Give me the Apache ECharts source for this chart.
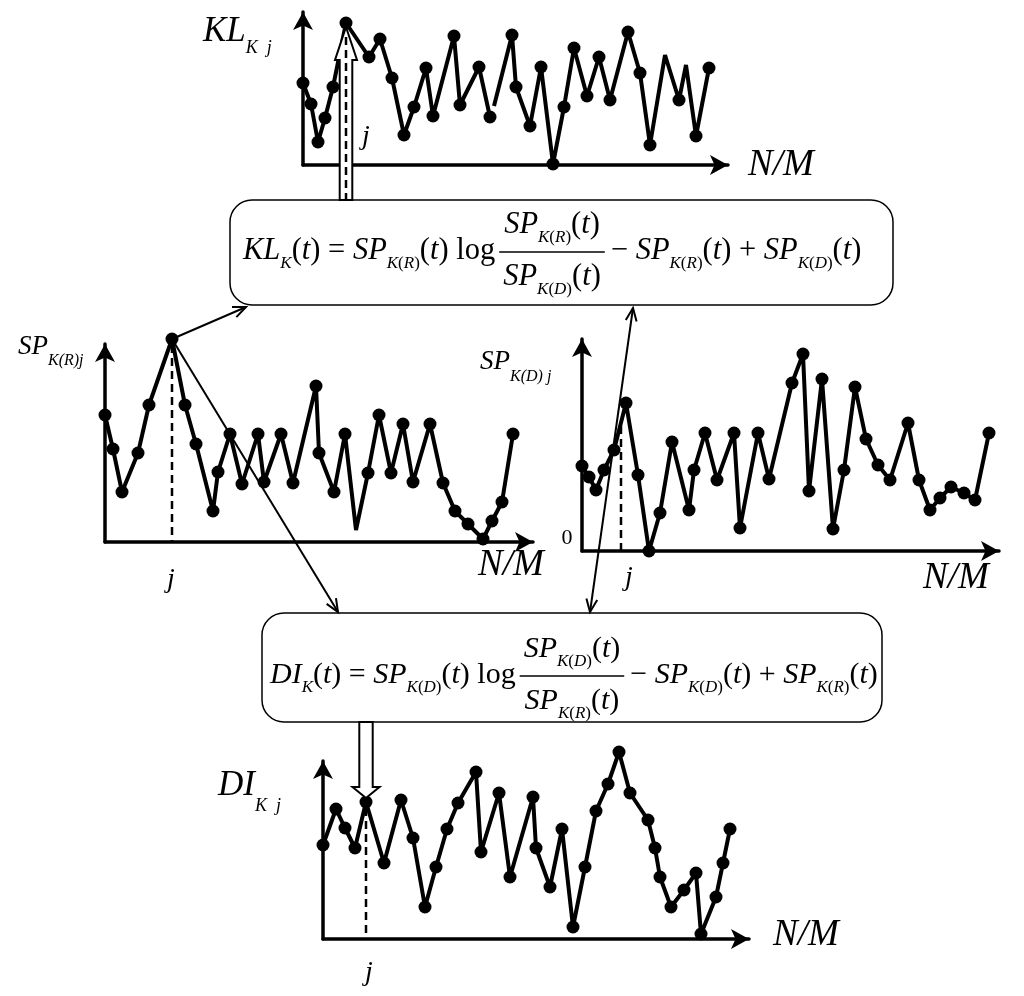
<!DOCTYPE html>
<html><head><meta charset="utf-8">
<script src="https://cdn.jsdelivr.net/npm/echarts@6/dist/echarts.min.js"></script>
<style>html,body{margin:0;padding:0;background:#fff}#c{width:1024px;height:996px}</style>
</head><body><div id="c"></div>
<script>
// ---------- DATA (x = position along N/M, y = value) ----------
const klX = [0,8,15,22,30,43,66,77,89,101,111,123,130,151,157,176,187,189,191,209,213,227,238,250,261,271,284,296,307,325,337,347,362,376,383,393,406];
const klY = [82,61,23,47,78,142,108,126,87,30,58,97,49,129,60,98,48,null,59,130,78,39,98,1,58,117,69,108,65,133,92,20,110,65,100,29,97];
const klNoDot = [18,32,34];
const klJ = 5;

const spRX = [0,8,17,33,44,67,80,91,108,113,125,137,153,159,176,188,211,214,229,240,251,263,274,286,298,308,325,338,350,363,378,387,397,408];
const spRY = [127,93,50,89,137,203,137,98,31,70,108,58,108,60,108,59,156,89,50,108,12,69,127,69,118,60,118,59,31,18,3,21,40,108];
const spRNoDot = [20];
const spRJ = 5;

const spDX = [0,7,14,22,32,44,56,67,78,90,107,112,123,135,152,158,176,187,210,221,227,240,251,262,273,284,296,308,326,337,348,358,369,382,393,407];
const spDY = [85,74,61,81,101,148,76,0,38,109,41,81,118,71,118,23,118,72,168,197,60,172,22,81,164,112,86,71,128,71,41,53,64,58,51,118];
const spDJ = [39,127];

const diX = [0,13,22,32,43,61,78,90,102,113,124,135,153,158,176,187,210,213,227,239,250,262,273,285,296,307,325,332,337,348,361,373,378,393,400,407];
const diY = [94,130,111,91,137,76,139,101,32,72,110,136,167,87,146,62,142,91,52,110,12,72,128,155,187,146,119,91,62,32,49,66,5,42,76,110];
const diJ = 4;

// ---------- LAYOUT ----------
const frames = [
  {ox:303, oy:165, tx:737, ty:3},
  {ox:105, oy:542, tx:542, ty:335},
  {ox:582, oy:551, tx:1008, ty:330},
  {ox:323, oy:939, tx:758, ty:752}
];
const FF = 'Liberation Serif';
const chart = echarts.init(document.getElementById('c'), null, {renderer:'canvas'});
const sets = [
  {X:klX, Y:klY, nd:klNoDot},
  {X:spRX, Y:spRY, nd:spRNoDot},
  {X:spDX, Y:spDY, nd:[]},
  {X:diX, Y:diY, nd:[]}
];
const grids=[], xAxes=[], yAxes=[], series=[];
frames.forEach((f,i)=>{
  const w=f.tx-9-f.ox, h=f.oy-f.ty-9;
  grids.push({left:f.ox, top:f.ty+9, width:w, height:h});
  const axisLine={show:true,onZero:true,symbol:['none','arrow'],symbolSize:[15,18],lineStyle:{color:'#000',width:3.5}};
  const common={gridIndex:i,type:'value',min:0,axisLine,axisTick:{show:false},axisLabel:{show:false},splitLine:{show:false}};
  xAxes.push(Object.assign({max:w},common));
  yAxes.push(Object.assign({max:h},common));
  const s=sets[i];
  const data=s.X.map((x,k)=>{
    if(s.Y[k]==null) return [x,'-'];
    if(s.nd.includes(k)) return {value:[x,s.Y[k]],symbol:'none'};
    return [x,s.Y[k]];
  });
  series.push({type:'line',xAxisIndex:i,yAxisIndex:i,data,symbol:'circle',symbolSize:13,showSymbol:true,
    lineStyle:{color:'#000',width:4},itemStyle:{color:'#000'},clip:false,silent:true,z:3,animation:false});
});
chart.setOption({animation:false,grid:grids,xAxis:xAxes,yAxis:yAxes,series});

// ---------- helpers ----------
function rs(main, sub, d){
  const H=2*d+20;
  return {
    m:{fontFamily:FF,fontStyle:'italic',fontSize:main,lineHeight:H,verticalAlign:'middle',fill:'#000'},
    n:{fontFamily:FF,fontStyle:'normal',fontSize:main,lineHeight:H,verticalAlign:'middle',fill:'#000'},
    s:{fontFamily:FF,fontStyle:'italic',fontSize:sub,lineHeight:20,verticalAlign:'bottom',fill:'#000'},
    sn:{fontFamily:FF,fontStyle:'normal',fontSize:sub,lineHeight:20,verticalAlign:'bottom',fill:'#000'}
  };
}
function txt(x,y,text,rich,align){
  return {type:'text',x,y,z:20,silent:true,style:{text,rich,align:align||'left',verticalAlign:'middle',fill:'#000'}};
}
function measure(text,rich){
  const t=new echarts.graphic.Text({style:{text,rich}});
  return t.getBoundingRect().width;
}
function line(x1,y1,x2,y2,w,dash){
  return {type:'line',z:15,silent:true,shape:{x1,y1,x2,y2},style:{stroke:'#000',lineWidth:w||2,lineDash:dash||null}};
}
function head(x1,y1,x2,y2){
  const a=Math.atan2(y2-y1,x2-x1), L=14, g=0.4;
  return {type:'polyline',z:15,silent:true,shape:{points:[[x2-L*Math.cos(a-g),y2-L*Math.sin(a-g)],[x2,y2],[x2-L*Math.cos(a+g),y2-L*Math.sin(a+g)]]},style:{stroke:'#000',lineWidth:2,fill:null}};
}
const G=[];
// boxes
G.push({type:'rect',z:5,silent:true,shape:{x:230,y:200,width:663,height:105,r:22},style:{fill:'#fff',stroke:'#000',lineWidth:1.5}});
G.push({type:'rect',z:5,silent:true,shape:{x:262,y:613,width:620,height:109,r:22},style:{fill:'#fff',stroke:'#000',lineWidth:1.5}});

// formulas
function formula(x0,yc,left,num,den,right,fs){
  const R=rs(fs,17,11);
  const wl=measure(left,R), wn=measure(num,R), wd=measure(den,R);
  const fw=Math.max(wn,wd)+8;
  const fc=x0+wl+4+fw/2;
  G.push(txt(x0,yc,left,R,'left'));
  G.push(txt(fc,yc-26,num,R,'center'));
  G.push(txt(fc,yc+26,den,R,'center'));
  G.push(line(fc-fw/2,yc+1,fc+fw/2,yc+1,1.5));
  G.push(txt(x0+wl+fw+10,yc,right,R,'left'));
}
const SPR='{m|SP}{s|K}{sn|(}{s|R}{sn|)}{n|(}{m|t}{n|)}';
const SPD='{m|SP}{s|K}{sn|(}{s|D}{sn|)}{n|(}{m|t}{n|)}';
formula(243,251,'{m|KL}{s|K}{n|(}{m|t}{n|) = }'+SPR+'{n| log}',SPR,SPD,'{n|− }'+SPR+'{n| + }'+SPD,30.5);
formula(270,675,'{m|DI}{s|K}{n|(}{m|t}{n|) = }'+SPD+'{n| log}',SPD,SPR,'{n|− }'+SPD+'{n| + }'+SPR,30);

// axis labels
G.push(txt(203,32,'{m|KL}{s|K  j}',rs(35,18,15.5)));
G.push(txt(18,347,'{m|SP}{s|K(R)j}',rs(27,16,12)));
G.push(txt(480,362,'{m|SP}{s|K(D) j}',rs(27,16,13)));
G.push(txt(218,786,'{m|DI}{s|K  j}',rs(35,18,19)));
const NM={m:{fontFamily:FF,fontStyle:'italic',fontSize:37,fill:'#000'}};
[[748,165],[478,565],[923,578],[773,935]].forEach(p=>G.push(txt(p[0],p[1],'{m|N/M}',NM)));
const JS={m:{fontFamily:FF,fontStyle:'italic',fontSize:28,fill:'#000'}};
[[366,137],[171,580],[629,578],[369,973]].forEach(p=>G.push(txt(p[0],p[1],'{m|j}',JS,'center')));
G.push(txt(567,538,'{n|0}',{n:{fontFamily:FF,fontSize:22,fill:'#000'}},'center'));

// j markers
const pKL=chart.convertToPixel({gridIndex:0},[klX[klJ],klY[klJ]]);
const pR=chart.convertToPixel({gridIndex:1},[spRX[spRJ],spRY[spRJ]]);
const pD=chart.convertToPixel({gridIndex:2},spDJ);
const pD0=chart.convertToPixel({gridIndex:2},[spDJ[0],0]);
const pDI=chart.convertToPixel({gridIndex:3},[diX[diJ],diY[diJ]]);
const pR0=chart.convertToPixel({gridIndex:1},[spRX[spRJ],0]);
const pDI0=chart.convertToPixel({gridIndex:3},[diX[diJ],0]);

// hollow arrow KL (box -> peak)
(function(){
  const x=pKL[0], y=pKL[1];
  G.push({type:'polygon',z:10,silent:true,shape:{points:[[x,y+4],[x+11,y+37],[x+6.3,y+37],[x+6.3,200],[x-6.3,200],[x-6.3,y+37],[x-11,y+37]]},style:{fill:'#fff',stroke:'#000',lineWidth:2}});
  G.push(line(x,y+14,x,199,2.5,[8,5]));
})();
// hollow arrow DI (box -> point)
(function(){
  const x=pDI[0], y=pDI[1];
  G.push({type:'polygon',z:10,silent:true,shape:{points:[[x,y-4],[x+13.5,y-15],[x+6.7,y-15],[x+6.7,722],[x-6.7,722],[x-6.7,y-15],[x-13.5,y-15]]},style:{fill:'#fff',stroke:'#000',lineWidth:2}});
  G.push(line(x,y+6,x,pDI0[1],2.5,[8,5]));
})();
// dashed j lines
G.push(line(pR[0],pR[1]+6,pR0[0],pR0[1],2.5,[8,5]));
G.push(line(pD0[0],pD0[1],pD[0],pD[1],2.5,[8,5]));

// thin arrows
G.push(line(pR[0],pR[1],246,307,2)); G.push(head(pR[0],pR[1],246,307));
G.push(line(pR[0],pR[1],338,612,2)); G.push(head(pR[0],pR[1],338,612));
G.push(line(590,612,633,308,2)); G.push(head(590,612,633,308)); G.push(head(633,308,590,612));

chart.setOption({graphic:{elements:G}});
</script></body></html>
